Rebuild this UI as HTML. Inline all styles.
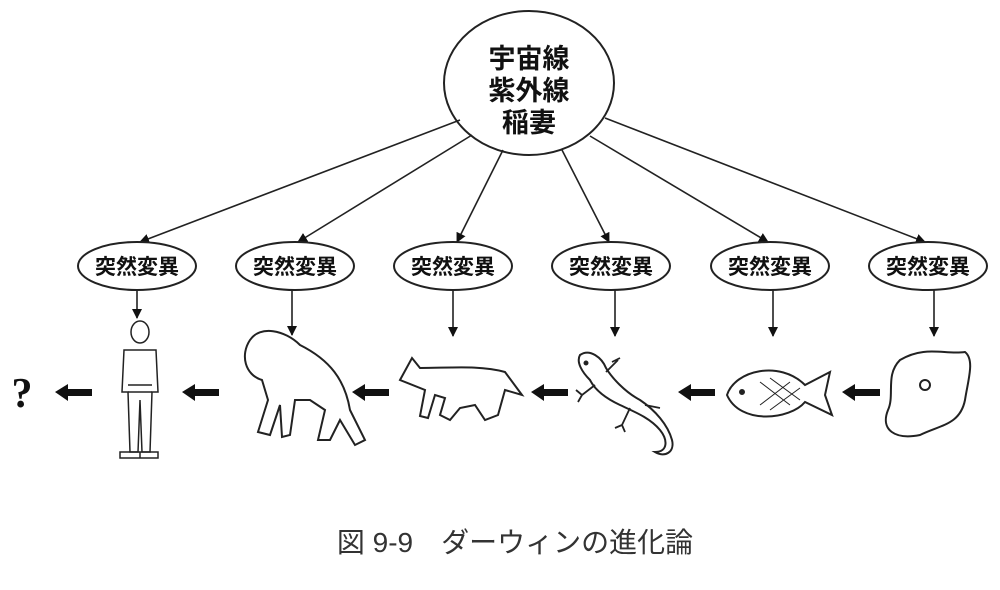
<!DOCTYPE html>
<html><head><meta charset="utf-8"><style>
body{margin:0;background:#fff;width:1000px;height:585px;overflow:hidden;font-family:"Liberation Sans","Noto Sans CJK JP",sans-serif}
</style></head><body>
<svg width="1000" height="585" viewBox="0 0 1000 585" xmlns="http://www.w3.org/2000/svg">
<defs>
<marker id="a" markerWidth="10" markerHeight="10" refX="9" refY="5" orient="auto" markerUnits="userSpaceOnUse"><path d="M0,0 L10,5 L0,10 Z" fill="#111"/></marker>
</defs>
<g stroke="#222" stroke-width="2" fill="none">
<ellipse cx="529" cy="83" rx="85" ry="72" fill="#fff"/>
<g marker-end="url(#a)" stroke-width="1.6">
<line x1="460" y1="120" x2="140" y2="242"/>
<line x1="472" y1="135" x2="298" y2="242"/>
<line x1="503" y1="150" x2="457" y2="242"/>
<line x1="562" y1="150" x2="609" y2="242"/>
<line x1="590" y1="136" x2="768" y2="242"/>
<line x1="605" y1="118" x2="925" y2="242"/>
<line x1="137" y1="290" x2="137" y2="318"/>
<line x1="292" y1="290" x2="292" y2="335"/>
<line x1="453" y1="290" x2="453" y2="336"/>
<line x1="615" y1="290" x2="615" y2="336"/>
<line x1="773" y1="290" x2="773" y2="336"/>
<line x1="934" y1="290" x2="934" y2="336"/>
</g>
<g fill="#fff">
<ellipse cx="137" cy="266" rx="59" ry="24"/>
<ellipse cx="295" cy="266" rx="59" ry="24"/>
<ellipse cx="453" cy="266" rx="59" ry="24"/>
<ellipse cx="611" cy="266" rx="59" ry="24"/>
<ellipse cx="770" cy="266" rx="59" ry="24"/>
<ellipse cx="928" cy="266" rx="59" ry="24"/>
</g>
<!-- human -->
<g stroke-width="1.5">
<ellipse cx="140" cy="332" rx="9" ry="11"/>
<path d="M124,350 L156,350 L158,392 L152,392 L150,452 L142,452 L140,400 L138,452 L130,452 L128,392 L122,392 Z"/>
<path d="M128,392 L152,392 M128,385 L152,385"/>
<path d="M120,452 L140,452 L140,458 L120,458 Z M140,452 L158,452 L158,458 L140,458 Z"/>
</g>
<!-- ape -->
<path stroke-width="2" d="M250,340 C260,325 285,330 300,345 C330,360 345,380 350,410 L365,440 L355,445 L340,420 L330,440 L318,440 L325,410 L310,400 L295,400 L290,435 L282,437 L280,405 L270,435 L258,432 L268,400 L262,380 C245,375 240,355 250,340 Z"/>
<!-- dog -->
<path stroke-width="2" d="M400,380 L412,358 L420,368 C450,368 480,365 505,372 L522,395 L505,390 L498,415 L485,420 L475,405 L460,408 L450,420 L440,415 L445,398 L435,395 L428,418 L420,416 L425,390 L400,380 Z"/>
<!-- lizard -->
<path stroke-width="2" d="M580,355 C590,348 602,358 606,368 C612,378 625,392 640,400 C655,410 668,425 672,440 C675,452 665,458 655,452 C668,452 668,440 660,430 C650,418 635,412 620,405 C605,398 595,390 590,380 C582,372 576,362 580,355 Z"/>
<path stroke-width="1.8" d="M606,372 L618,360 M612,362 L620,358 M595,385 L582,395 M582,395 L576,390 M582,395 L578,402 M645,405 L660,408 M630,408 L622,425 M622,425 L615,428 M622,425 L625,432"/>
<circle cx="586" cy="363" r="1.5" fill="#222"/>
<!-- fish -->
<path stroke-width="2" d="M727,395 C735,370 780,360 805,385 L830,372 L825,395 L832,415 L805,402 C790,420 740,425 727,395 Z"/>
<path stroke-width="1" d="M760,382 L790,405 M770,378 L800,400 M760,405 L790,382 M770,410 L800,388"/>
<circle cx="742" cy="392" r="2" fill="#222"/>
<!-- amoeba -->
<path stroke-width="2" d="M900,360 C925,345 945,355 965,352 C975,360 968,380 965,400 C960,425 940,425 920,435 C895,440 880,430 888,410 C895,395 885,375 900,360 Z"/>
<circle cx="925" cy="385" r="5"/>
</g>
<g fill="#111">
<path d="M55,392 L68,384 L68,389 L92,389 L92,396 L68,396 L68,401 Z"/>
<path d="M182,392 L195,384 L195,389 L219,389 L219,396 L195,396 L195,401 Z"/>
<path d="M352,392 L365,384 L365,389 L389,389 L389,396 L365,396 L365,401 Z"/>
<path d="M531,392 L544,384 L544,389 L568,389 L568,396 L544,396 L544,401 Z"/>
<path d="M678,392 L691,384 L691,389 L715,389 L715,396 L691,396 L691,401 Z"/>
<path d="M842,392 L855,384 L855,389 L880,389 L880,396 L855,396 L855,401 Z"/>
</g>
<text x="22" y="407" font-family="Liberation Serif,serif" font-weight="bold" font-size="42" text-anchor="middle" fill="#111">?</text>
<g font-family="Liberation Sans,Noto Sans CJK JP,sans-serif" font-weight="bold" fill="#111" text-anchor="middle">
<text x="529" y="68" font-size="27">宇宙線</text>
<text x="529" y="100" font-size="27">紫外線</text>
<text x="529" y="132" font-size="27">稲妻</text>
<g font-size="21">
<text x="137" y="274">突然変異</text>
<text x="295" y="274">突然変異</text>
<text x="453" y="274">突然変異</text>
<text x="611" y="274">突然変異</text>
<text x="770" y="274">突然変異</text>
<text x="928" y="274">突然変異</text>
</g>
</g>
<text x="515" y="552" font-family="Liberation Sans,Noto Sans CJK JP,sans-serif" font-size="28" fill="#333" text-anchor="middle">図 9-9　ダーウィンの進化論</text>
</svg>
</body></html>
